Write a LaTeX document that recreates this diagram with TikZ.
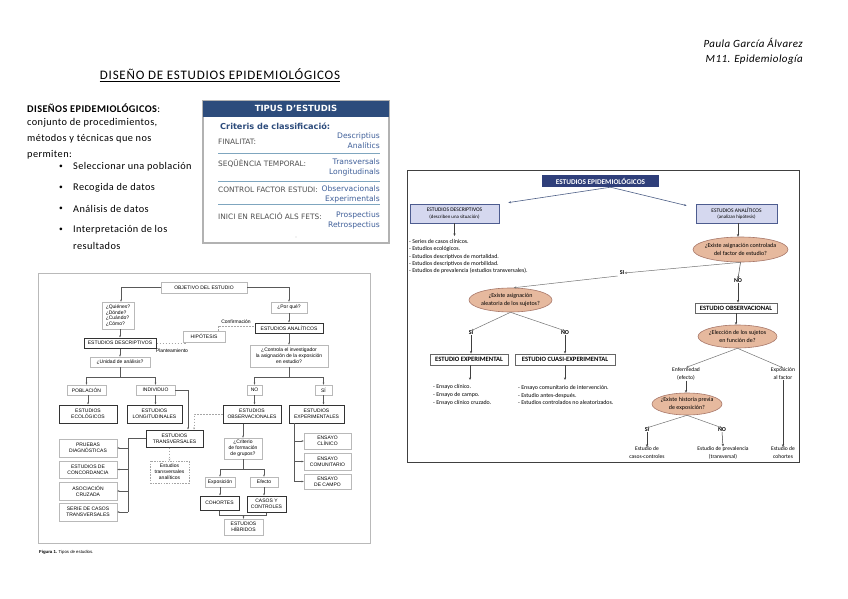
\documentclass[tikz,border=0pt]{standalone}
\usepackage{fontspec}
\setmainfont{Carlito}
\newfontfamily\lsans{Liberation Sans}
\newfontfamily\dsans{DejaVu Sans}
\usetikzlibrary{arrows.meta,shapes.geometric,calc}
\definecolor{tipblue}{HTML}{2D4C7C}
\definecolor{tipval}{HTML}{3F5F99}
\definecolor{tipline}{HTML}{7FA6BF}
\definecolor{tiplab}{HTML}{505050}
\definecolor{rblue}{HTML}{2F3F7A}
\definecolor{rlav}{HTML}{D5D8EF}
\definecolor{rboxb}{HTML}{4D5C8F}
\definecolor{rtan}{HTML}{E6B99E}
\definecolor{rtanb}{HTML}{A8786A}
\definecolor{rline}{HTML}{4D5F86}
\newcommand\lfnt{\lsans\fontsize{5}{5.8}\selectfont}
\newcommand\rfnt{\fontsize{5.9}{7.3}\selectfont}
\newcommand\tlfnt{\dsans\fontsize{7.4}{10}\selectfont}
\newcommand\tvfnt{\dsans\fontsize{7.6}{10}\selectfont}
\begin{document}
\begin{tikzpicture}[x=1pt,y=-1pt,
  ptxt/.style={anchor=west,inner sep=0pt,font=\fontsize{10.3}{12}\selectfont\addfontfeature{LetterSpace=4}},
  pbul/.style={anchor=west,inner sep=0pt,font=\fontsize{7.5}{9}\selectfont},
  lb/.style={draw=gray!55,line width=0.5pt,fill=white,font=\lfnt,inner sep=0pt,align=center},
  lk/.style={lb,draw=black!80,line width=1pt},
  ldb/.style={lb,dashed,dash pattern=on 1.5pt off 1.2pt,draw=gray!70},
  ln/.style={draw=black!65,line width=0.4pt},
  la/.style={ln,-{Stealth[length=2.2pt,width=1.8pt]}},
  ld/.style={dashed,dash pattern=on 1.5pt off 1.5pt,draw=gray!70,line width=0.5pt},
  lda/.style={ld,-{Stealth[length=2.2pt,width=1.8pt]}},
  lt/.style={font=\lfnt,inner sep=0pt},
  tl/.style={anchor=west,inner sep=0pt,font=\tlfnt,text=tiplab},
  tv/.style={anchor=east,inner sep=0pt,font=\tvfnt,text=tipval,align=right},
  rt/.style={font=\rfnt,inner sep=0pt,align=center},
  rb/.style={rt,draw=rboxb,fill=rlav,line width=0.8pt,font=\fontsize{5.5}{6.8}\selectfont},
  rw/.style={rt,draw=black!60,fill=white,line width=0.8pt,font=\fontsize{6.6}{8}\selectfont\bfseries},
  re/.style={ellipse,draw=rtanb,fill=rtan,line width=0.6pt,inner sep=0pt},
  ret/.style={rt,font=\fontsize{6}{7.6}\selectfont},
  rl/.style={rt,font=\fontsize{6}{7}\selectfont\bfseries},
  rs/.style={rt,font=\fontsize{5.6}{8}\selectfont},
  ra/.style={draw=black!75,line width=0.5pt,-{Stealth[length=2.6pt,width=2.2pt]}},
  rab/.style={draw=rline,line width=0.6pt,-{Stealth[length=2.6pt,width=2.2pt]}}
]
\useasboundingbox[fill=white] (0,0) rectangle (848,599);

% ---------- page header ----------
\node[anchor=east,inner sep=0pt,font=\fontsize{11}{12}\selectfont\itshape\addfontfeature{LetterSpace=4}] (auth) at (803,43) {Paula García Álvarez};
\node[anchor=east,inner sep=0pt,font=\fontsize{11}{12}\selectfont\itshape\addfontfeature{LetterSpace=4}] (mod) at (803,60) {M11. Epidemiología};
\node[inner sep=0pt,anchor=base,font=\fontsize{13}{14}\selectfont\addfontfeature{LetterSpace=6}] (title) at (220,80) {DISEÑO DE ESTUDIOS EPIDEMIOLÓGICOS};
\draw[line width=0.9pt] ([yshift=-1.8pt]title.base west) -- ([yshift=-1.8pt]title.base east);

% ---------- left text ----------
\node[ptxt] (t1) at (27,108) {\textbf{DISEÑOS EPIDEMIOLÓGICOS}:};
\node[ptxt] (t2) at (27,123) {conjunto de procedimientos,};
\node[ptxt] (t3) at (27,139) {métodos y técnicas que nos};
\node[ptxt] (t4) at (27,155) {permiten:};
\node[pbul] (d1) at (59,167) {\textbullet};
\node[ptxt] (b1) at (73,167) {Seleccionar una población};
\node[pbul] (d2) at (59,188) {\textbullet};
\node[ptxt] (b2) at (73,188) {Recogida de datos};
\node[pbul] (d3) at (59,209) {\textbullet};
\node[ptxt] (b3) at (73,209) {Análisis de datos};
\node[pbul] (d4) at (59,230) {\textbullet};
\node[ptxt] (b4) at (73,230) {Interpretación de los};
\node[ptxt] (b5) at (73,246) {resultados};

% ---------- TIPUS D'ESTUDIS ----------
\node[draw=gray!60,line width=1.2pt,minimum width=186pt,minimum height=142pt,inner sep=0pt] (tipus) at (296,172) {};
\node[fill=tipblue,minimum width=186pt,minimum height=16pt,inner sep=0pt,anchor=north,text=white,font=\dsans\bfseries\fontsize{8.5}{10}\selectfont] (tiphdr) at (tipus.north) {TIPUS D’ESTUDIS};
\node[anchor=west,inner sep=0pt,text=tipblue,font=\dsans\bfseries\fontsize{8.2}{10}\selectfont] (crit0) at (220,126) {Criteris de classificació:};
\node[tl] (fl) at (218,142) {FINALITAT:};
\node[tv] (fv) at (380,141) {Descriptius\\Analítics};
\node[tl] (sl) at (218,164) {SEQÜÈNCIA TEMPORAL:};
\node[tv] (sv) at (380,167) {Transversals\\Longitudinals};
\node[tl] (cl) at (218,190) {CONTROL FACTOR ESTUDI:};
\node[tv] (cv) at (380,194) {Observacionals\\Experimentals};
\node[tl] (il) at (218,216) {INICI EN RELACIÓ ALS FETS:};
\node[tv] (iv) at (380,220) {Prospectius\\Retrospectius};
\draw[tipline,line width=0.8pt] (218,153) -- (380,153);
\draw[tipline,line width=0.8pt] (218,181) -- (380,181);
\draw[tipline,line width=0.8pt] (218,204) -- (380,204);
\node[circle,fill=gray!40,inner sep=0.4pt] (tdot) at (296,237) {};

% ---------- left diagram ----------
\node[draw=gray!55,line width=0.8pt,minimum width=331.5pt,minimum height=269.5pt,inner sep=0pt] (lframe) at (204.25,408.25) {};
\node[lt,anchor=west,font=\lsans\fontsize{4.3}{5}\selectfont] (cap) at (39,552) {\textbf{Figura 1.} Tipos de estudios.};

\node[lb,minimum width=86pt,minimum height=11pt] (obj) at (204,287.5) {OBJETIVO DEL ESTUDIO};
\node[lb,minimum width=32pt,minimum height=27pt,align=left] (quien) at (118,315.5) {¿Quiénes?\\¿Dónde?\\¿Cuándo?\\¿Cómo?};
\node[lb,minimum width=36pt,minimum height=11pt] (porque) at (289,307.5) {¿Por qué?};
\node[lk,minimum width=72pt,minimum height=10pt] (desc) at (120,343) {ESTUDIOS DESCRIPTIVOS};
\node[lb,minimum width=42pt,minimum height=11pt] (hip) at (204,336.5) {HIPÓTESIS};
\node[lk,minimum width=68pt,minimum height=10pt] (anal) at (289,328) {ESTUDIOS ANALÍTICOS};
\node[lb,minimum width=60pt,minimum height=10pt] (unidad) at (120,362) {¿Unidad de análisis?};
\node[lb,minimum width=78pt,minimum height=22pt] (controla) at (289,356) {¿Controla el investigador\\la asignación de la exposición\\en estudio?};
\node[lb,minimum width=39pt,minimum height=10pt] (pob) at (86.5,390) {POBLACIÓN};
\node[lb,minimum width=39pt,minimum height=10pt] (ind) at (155.5,390) {INDIVIDUO};
\node[lb,minimum width=15pt,minimum height=10pt] (no) at (254.5,390) {NO};
\node[lb,minimum width=17pt,minimum height=10pt] (si) at (323.5,390) {SÍ};
\node[lk,minimum width=58pt,minimum height=18pt] (eco) at (88,414) {ESTUDIOS\\ECOLÓGICOS};
\node[lk,minimum width=55pt,minimum height=18pt] (long) at (154.5,414) {ESTUDIOS\\LONGITUDINALES};
\node[lk,minimum width=58pt,minimum height=18pt] (obs) at (252,414) {ESTUDIOS\\OBSERVACIONALES};
\node[lk,minimum width=55pt,minimum height=18pt] (exp) at (316.5,414) {ESTUDIOS\\EXPERIMENTALES};
\node[lk,minimum width=57pt,minimum height=17pt] (trans) at (174.5,438.5) {ESTUDIOS\\TRANSVERSALES};
\node[lb,minimum width=58pt,minimum height=18pt] (pru) at (88,448) {PRUEBAS\\DIAGNÓSTICAS};
\node[lb,minimum width=58pt,minimum height=17pt] (conc) at (88,469.5) {ESTUDIOS DE\\CONCORDANCIA};
\node[lb,minimum width=58pt,minimum height=18pt] (asoc) at (88,491) {ASOCIACIÓN\\CRUZADA};
\node[lb,minimum width=58pt,minimum height=18pt] (serie) at (88,512) {SERIE DE CASOS\\TRANSVERSALES};
\node[ldb,minimum width=39pt,minimum height=22pt] (tana) at (169.5,472) {Estudios\\transversales\\analíticos};
\node[lb,minimum width=38pt,minimum height=21pt] (crit) at (243,448.5) {¿Criterio\\de formación\\de grupos?};
\node[lb,minimum width=30pt,minimum height=10pt] (expo) at (220,482) {Exposición};
\node[lb,minimum width=28pt,minimum height=10pt] (efec) at (264,482) {Efecto};
\node[lk,minimum width=39pt,minimum height=14pt] (coh) at (219.5,503) {COHORTES};
\node[lk,minimum width=39pt,minimum height=16pt] (casos) at (266.5,504) {CASOS Y\\CONTROLES};
\node[lb,minimum width=39pt,minimum height=16pt] (hib) at (243.5,527) {ESTUDIOS\\HÍBRIDOS};
\node[lb,minimum width=47pt,minimum height=16pt] (ecl) at (327.5,441) {ENSAYO\\CLÍNICO};
\node[lb,minimum width=47pt,minimum height=17pt] (ecom) at (327.5,461.5) {ENSAYO\\COMUNITARIO};
\node[lb,minimum width=47pt,minimum height=15pt] (ecam) at (327.5,481.5) {ENSAYO\\DE CAMPO};
\node[lt] (plan) at (172,351) {Planteamiento};
\node[lt] (conf) at (236,322) {Confirmación};

\draw[la] (obj.west) -| ([xshift=3pt]quien.north);
\draw[la] (obj.east) -| (porque.north);
\draw[la] (quien.south -| desc.north) -- (desc.north);
\draw[la] (desc.south) -- (unidad.north);
\coordinate (u1) at (120,377);
\draw[ln] (unidad.south) -- (u1);
\draw[la] (u1) -| (pob.north);
\draw[la] (u1) -| (ind.north);
\draw[la] (pob.south -| eco.north) -- (eco.north);
\draw[la] (ind.south) -- (ind.south |- long.north);
\draw[la] (ind.east) -| ([xshift=13.5pt]trans.north);
\draw[ld] (desc.east) -| ([xshift=-19pt]hip.south);
\draw[ld] ([xshift=14pt]hip.north) |- ([yshift=2pt]anal.west);
\draw[la] (porque.south) -- (anal.north);
\draw[la] (anal.south) -- (controla.north);
\coordinate (c1) at (289,377);
\draw[ln] (controla.south) -- (c1);
\draw[la] (c1) -| (no.north);
\draw[la] (c1) -| (si.north);
\draw[la] (no.south) -- (no.south |- obs.north);
\draw[la] (si.south) -- (si.south |- exp.north);
\draw[lda] (obs.west) -| ([xshift=19.5pt]trans.north);
\draw[lda] (tana.north |- trans.south) -- (tana.north);
\coordinate (tj) at (128,438.5);
\draw[ln] (trans.west) -- (tj) -- (tj |- serie.east);
\draw[la] (tj |- pru.east) -- (pru.east);
\draw[la] (tj |- conc.east) -- (conc.east);
\draw[la] (tj |- asoc.east) -- (asoc.east);
\draw[la] (tj |- serie.east) -- (serie.east);
\draw[la] (crit.north |- obs.south) -- (crit.north);
\coordinate (c2) at (243,469);
\draw[ln] (crit.south) -- (c2);
\draw[la] (c2) -| (expo.north);
\draw[la] (c2) -| (efec.north);
\draw[la] (expo.south) -- (expo.south |- coh.north);
\draw[la] (efec.south) -- (efec.south |- casos.north);
\coordinate (hb) at (243.5,515.5);
\draw[ln] (coh.south) |- (hb) -| (casos.south);
\draw[la] (hb) -- (hib.north);
\coordinate (ej) at (294,423);
\draw[ln] (ej) -- (ej |- ecam.west);
\draw[la] (ej |- ecl.west) -- (ecl.west);
\draw[la] (ej |- ecom.west) -- (ecom.west);
\draw[la] (ej |- ecam.west) -- (ecam.west);

% ---------- right diagram ----------
\node[draw=black!75,line width=1pt,minimum width=392pt,minimum height=292pt,inner sep=0pt] (rframe) at (603,316) {};
\node[rt,fill=rblue,text=white,font=\fontsize{7.3}{8}\selectfont\bfseries,minimum width=117pt,minimum height=12pt] (hdr) at (600.5,181) {ESTUDIOS EPIDEMIOLÓGICOS};
\node[rb,minimum width=89pt,minimum height=19pt] (rdesc) at (454.5,213.5) {ESTUDIOS DESCRIPTIVOS\\{\fontsize{4.9}{6}\selectfont(describen una situación)}};
\node[rb,minimum width=81pt,minimum height=19pt] (ranal) at (736.5,213.5) {ESTUDIOS ANALÍTICOS\\{\fontsize{4.9}{6}\selectfont(analizan hipótesis)}};
\node[rt,anchor=west,align=left] (dlist) at (409,256.5) {- Series de casos clínicos.\\- Estudios ecológicos.\\- Estudios descriptivos de mortalidad.\\- Estudios descriptivos de morbilidad.\\- Estudios de prevalencia (estudios transversales).};
\node[re,minimum width=95pt,minimum height=25pt,label={[ret]center:¿Existe asignación controlada\\del factor de estudio?}] (e1) at (740.5,249.5) {};
\node[rl] (rsi1) at (622,273) {SI};
\node[rl] (rno1) at (738,281) {NO};
\node[re,minimum width=83pt,minimum height=24pt,label={[ret]center:¿Existe asignación\\aleatoria de los sujetos?}] (e2) at (510.5,300) {};
\node[rl] (rsi2) at (471,333) {SI};
\node[rl] (rno2) at (565,333) {NO};
\node[rw,minimum width=78pt,minimum height=11pt] (rexp) at (469,359.5) {ESTUDIO EXPERIMENTAL};
\node[rw,minimum width=100pt,minimum height=11pt] (rcua) at (565,359.5) {ESTUDIO CUASI-EXPERIMENTAL};
\node[rt,anchor=west,align=left,font=\fontsize{5.9}{7.8}\selectfont] (xlist) at (433,395) {- Ensayo clínico.\\- Ensayo de campo.\\- Ensayo clínico cruzado.};
\node[rt,anchor=west,align=left,font=\fontsize{5.9}{7.8}\selectfont] (qlist) at (518,395) {- Ensayo comunitario de intervención.\\- Estudio antes-después.\\- Estudios controlados no aleatorizados.};
\node[rw,minimum width=82pt,minimum height=10pt] (robs) at (736,308) {ESTUDIO OBSERVACIONAL};
\node[re,minimum width=79pt,minimum height=23pt,label={[ret]center:¿Elección de los sujetos\\en función de?}] (e3) at (737.5,336.5) {};
\node[rs] (enf) at (686,374) {Enfermedad\\(efecto)};
\node[rs] (expf) at (783,374) {Exposición\\al factor};
\node[re,minimum width=70pt,minimum height=22pt,label={[ret]center:¿Existe historia previa\\de exposición?}] (e4) at (687,404) {};
\node[rl] (rsi3) at (647,430) {SI};
\node[rl] (rno3) at (722,430) {NO};
\node[rs] (cc) at (647,453) {Estudio de\\casos-controles};
\node[rs] (prev) at (723,453) {Estudio de prevalencia\\(transversal)};
\node[rs] (cohr) at (783,453) {Estudio de\\cohortes};

\draw[rab] ([xshift=10pt]hdr.south) -- ([xshift=9pt,yshift=1pt]rdesc.north east);
\draw[rab] ([xshift=10pt]hdr.south) -- ([xshift=-9pt,yshift=-2pt]ranal.north west);
\coordinate (dl0) at (454.5,236);
\draw[ra] (rdesc.south) -- (dl0);
\draw[ra] ([xshift=1.5pt]ranal.south) -- ([xshift=1.5pt]ranal.south |- e1.north);
\draw[ra,draw=black!55] (e1.south) -- (rsi1.east);
\draw[ra,draw=black!55] ([xshift=-2pt,yshift=-3pt]rsi1.west) -- (e2.75);
\draw[ra] (e1.south) -- (rno1.north);
\draw[ra] (rno1.south) -- (rno1.south |- robs.north);
\draw[ra] (robs.south) -- (robs.south |- e3.north);
\draw[ra,draw=black!55] (e3.south) -- (enf.north);
\draw[ra,draw=black!55] (e3.south) -- (expf.north);
\draw[ra] (enf.south) -- (enf.south |- e4.north);
\draw[ra,draw=black!55] (e4.south) -- (rsi3.north);
\draw[ra,draw=black!55] (e4.south) -- (rno3.north);
\draw[ra] (rsi3.south) -- (cc.north);
\draw[ra] (rno3.south) -- (prev.north);
\draw[ra] (expf.south) -- (cohr.north);
\draw[ra,draw=black!55] (e2.south) -- (rsi2.north);
\draw[ra,draw=black!55] (e2.south) -- (rno2.north);
\draw[ra] (rsi2.south) -- (rsi2.south |- rexp.north);
\draw[ra] (rno2.south) -- (rno2.south |- rcua.north);
\coordinate (xl0) at (470,380);
\coordinate (ql0) at (565,380);
\draw[ra] (rexp.south -| xl0) -- (xl0);
\draw[ra] (rcua.south) -- (ql0);
\end{tikzpicture}
\end{document}
